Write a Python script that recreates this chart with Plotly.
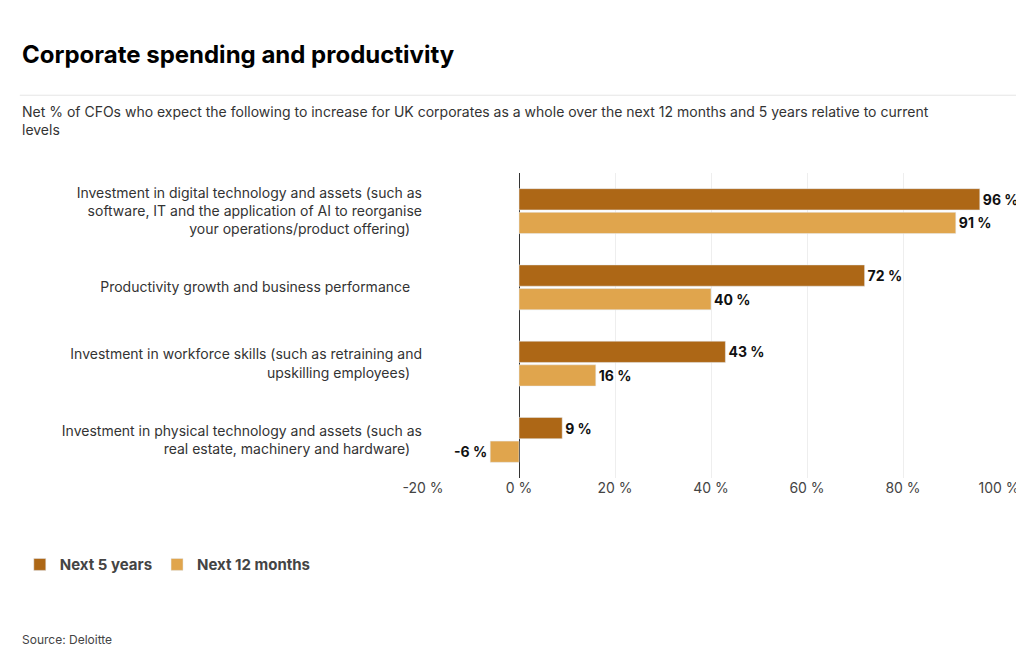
import plotly.graph_objects as go

categories = [
    "Investment in digital technology and assets (such as<br>software, IT and the application of AI to reorganise<br>your operations/product offering)",
    "Productivity growth and business performance",
    "Investment in workforce skills (such as retraining and<br>upskilling employees)",
    "Investment in physical technology and assets (such as<br>real estate, machinery and hardware)",
]
next_5_years = [96, 72, 43, 9]
next_12_months = [91, 40, 16, -6]

fig = go.Figure()
fig.add_trace(go.Bar(
    y=categories, x=next_5_years, name="<b>Next 5 years</b>", orientation="h",
    marker_color="#AD6716", text=[f"<b>{v} %</b>" for v in next_5_years],
    textposition="outside", cliponaxis=False,
    textfont=dict(size=14, color="#111", family="Inter"),
))
fig.add_trace(go.Bar(
    y=categories, x=next_12_months, name="<b>Next 12 months</b>", orientation="h",
    marker_color="#E0A54D", text=[f"<b>{v} %</b>" for v in next_12_months],
    textposition="outside", cliponaxis=False,
    textfont=dict(size=14, color="#111", family="Inter"),
))

fig.update_layout(
    width=1024, height=672,
    paper_bgcolor="white", plot_bgcolor="white",
    font=dict(family="Inter", size=14, color="#333"),
    barmode="group", bargap=0.38, bargroupgap=0.1,
    margin=dict(l=413, r=29, t=165, b=202),
    showlegend=True,
    legend=dict(orientation="h", x=-0.70, xanchor="left", y=-0.23, yanchor="top",
                font=dict(size=15, color="#444"), traceorder="normal"),
    xaxis=dict(range=[-20, 100], tickvals=[-20, 0, 20, 40, 60, 80, 100],
               ticktext=["-20 %", "0 %", "20 %", "40 %", "60 %", "80 %", "100 %"],
               showgrid=True, gridcolor="#eeeeee", zeroline=True, zerolinecolor="#333",
               zerolinewidth=1, tickfont=dict(size=14, color="#444")),
    yaxis=dict(autorange="reversed", tickfont=dict(size=14, color="#333"),
               ticksuffix="   ", automargin=False),
    shapes=[dict(type="line", xref="paper", yref="paper", x0=-0.70, x1=1.05,
                 y0=1.255, y1=1.255, line=dict(color="#e5e5e5", width=1))],
    annotations=[
        dict(text="<b>Corporate spending and productivity</b>", xref="paper", yref="paper",
             x=-0.70, y=1.39, xanchor="left", yanchor="middle", showarrow=False,
             font=dict(size=24, color="#000")),
        dict(text="Net % of CFOs who expect the following to increase for UK corporates as a whole over the next 12 months and 5 years relative to current<br>levels",
             xref="paper", yref="paper", x=-0.70, y=1.235, xanchor="left", yanchor="top",
             align="left", showarrow=False, font=dict(size=14, color="#333")),
        dict(text="Source: Deloitte", xref="paper", yref="paper", x=-0.70, y=-0.53,
             xanchor="left", yanchor="middle", showarrow=False,
             font=dict(size=12, color="#444")),
    ],
)

fig.write_html("out.html")
